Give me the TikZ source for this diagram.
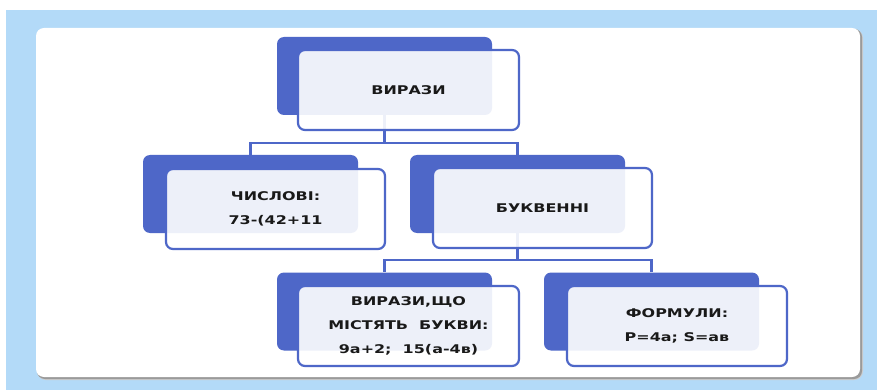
\documentclass[tikz,border=0pt]{standalone}
\usepackage{fontspec}
\newfontfamily\boxfont[FakeStretch=1.33]{DejaVu Sans}
\definecolor{skyback}{HTML}{B3DAF8}
\definecolor{tileblue}{HTML}{4E67C8}
\definecolor{panelshade}{HTML}{9A9A9A}

\begin{document}
\begin{tikzpicture}[x=1pt,y=-1pt,
  backtile/.style={rectangle, rounded corners=7pt, fill=tileblue,
    minimum width=215pt, minimum height=78pt, inner sep=0pt},
  fronttile/.style={rectangle, rounded corners=7pt, draw=tileblue,
    line width=2.2pt, fill=white, fill opacity=0.9, text opacity=1,
    minimum width=219pt, minimum height=80pt, inner sep=0pt,
    align=center, text=black!90,
    font=\boxfont\bfseries\fontsize{12}{24}\selectfont},
  link/.style={draw=tileblue, line width=2.6pt}]

% page and sky-blue backdrop
\fill[white] (0,0) rectangle (877,390);
\useasboundingbox (0,0) rectangle (877,390);
\fill[skyback] (6,10) rectangle (877,390);

% white panel with a soft drop shadow
\fill[panelshade!50, rounded corners=9pt] (37,29) rectangle (863,380);
\fill[panelshade, rounded corners=8pt] (37,29) rectangle (862,379);
\fill[white, rounded corners=8pt] (36,28) rectangle (860,377);

% dark tiles behind each box
\node[backtile] (topb) at (384.5,76) {};
\node[backtile] (numb) at (250.5,194) {};
\node[backtile] (letb) at (517.5,194) {};
\node[backtile] (hasb) at (384.5,311.5) {};
\node[backtile] (forb) at (651.5,311.5) {};

% tree connectors
\coordinate (j1) at (384.5,143);
\coordinate (j2) at (517.5,260);
\draw[link] (topb.south) -- (j1) -| (numb.north);
\draw[link] (j1) -| (letb.north);
\draw[link] (letb.south) -- (j2) -| (hasb.north);
\draw[link] (j2) -| (forb.north);

% translucent front boxes with the labels
\node[fronttile, minimum width=221pt] (top) at (408.5,90) {ВИРАЗИ};
\node[fronttile] (num) at (275.5,209) {ЧИСЛОВІ:\\73-(42+11};
\node[fronttile] (let) at (542.5,208) {БУКВЕННІ};
\node[fronttile, minimum width=221pt] (has) at (408.5,326)
  {ВИРАЗИ,ЩО\\МІСТЯТЬ\ \ БУКВИ:\\9а+2;\ \ 15(а-4в)};
\node[fronttile, minimum width=220pt] (for) at (677,326)
  {ФОРМУЛИ:\\P=4а; S=ав};
\end{tikzpicture}
\end{document}
